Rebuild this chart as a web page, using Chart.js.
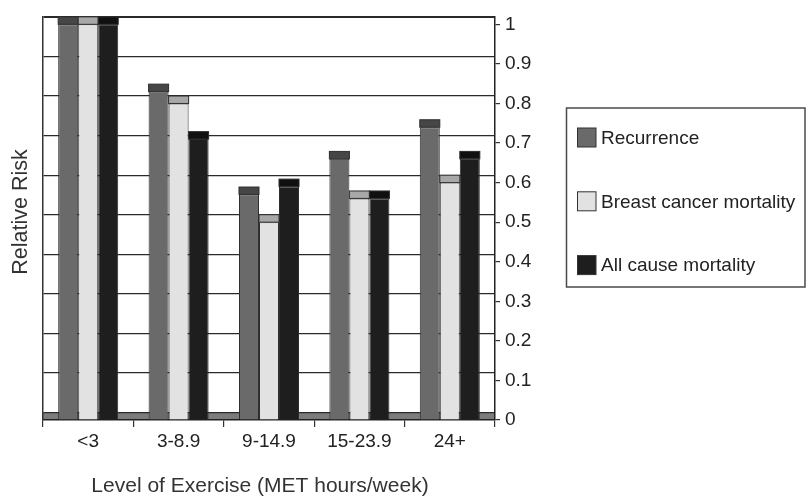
<!DOCTYPE html>
<html>
<head>
<meta charset="utf-8">
<script src="https://cdn.jsdelivr.net/npm/chart.js@4/dist/chart.umd.min.js"></script>
<style>
  html, body { margin: 0; padding: 0; background: #fff; }
  #wrap { width: 806px; height: 498px; }
</style>
</head>
<body>
<div id="wrap"><canvas id="c" width="806" height="498"></canvas></div>
<script>
// Exercise level categories (MET hours/week)
const categories = ['<3', '3-8.9', '9-14.9', '15-23.9', '24+'];

// Relative risk per outcome
const recurrence = [1.0, 0.83, 0.57, 0.66, 0.74];
const breastCancerMortality = [1.0, 0.80, 0.50, 0.56, 0.60];
const allCauseMortality = [1.0, 0.71, 0.59, 0.56, 0.66];

// Relative risk axis ticks
const riskTicks = [0, 0.1, 0.2, 0.3, 0.4, 0.5, 0.6, 0.7, 0.8, 0.9, 1];

const FONT = '"Liberation Sans", Arial, Helvetica, sans-serif';
const INK = '#222';

// White page, then the grey floor strip of the 3-D plot box
const floorPlugin = {
  id: 'floor',
  beforeDraw(chart) {
    const { ctx, chartArea } = chart;
    ctx.save();
    ctx.fillStyle = '#fff';
    ctx.fillRect(0, 0, chart.width, chart.height);
    const back = chart.scales.yg.getPixelForValue(0);
    const front = chart.scales.y.getPixelForValue(0);
    ctx.fillStyle = '#7c7c7c';
    ctx.fillRect(chartArea.left, back, chartArea.right - chartArea.left, front - back);
    ctx.restore();
  }
};

// Top faces of the columns, drawn from each bar's own geometry
const columnTopPlugin = {
  id: 'columnTop',
  afterDatasetsDraw(chart) {
    const { ctx } = chart;
    const depth = chart.scales.y.getPixelForValue(0) - chart.scales.yg.getPixelForValue(0);
    ctx.save();
    chart.data.datasets.forEach((ds, i) => {
      const meta = chart.getDatasetMeta(i);
      meta.data.forEach(bar => {
        const { x, y, width } = bar.getProps(['x', 'y', 'width'], true);
        ctx.fillStyle = ds.topColor;
        ctx.fillRect(x - width / 2, y - depth, width, depth);
        ctx.strokeStyle = '#2e2e2e';
        ctx.lineWidth = 1;
        ctx.strokeRect(x - width / 2, y - depth, width, depth);
      });
    });
    ctx.restore();
  }
};

// Boxed legend at the right of the plot
const boxLegendPlugin = {
  id: 'boxLegend',
  afterDraw(chart) {
    const { ctx } = chart;
    const box = { left: 566.5, top: 108, right: 805, bottom: 287 };
    ctx.save();
    ctx.strokeStyle = '#4a4a4a';
    ctx.lineWidth = 1.5;
    ctx.strokeRect(box.left, box.top, box.right - box.left, box.bottom - box.top);
    ctx.font = '19px ' + FONT;
    ctx.textBaseline = 'middle';
    ctx.textAlign = 'left';
    chart.data.datasets.forEach((ds, i) => {
      const cy = 137.5 + i * 63.8;
      ctx.fillStyle = ds.backgroundColor;
      ctx.fillRect(577, cy - 9.5, 19, 19);
      ctx.strokeStyle = '#333';
      ctx.lineWidth = 1;
      ctx.strokeRect(577.5, cy - 9.5, 18.5, 19);
      ctx.fillStyle = INK;
      ctx.fillText(ds.label, 601, cy + 1);
    });
    ctx.restore();
  }
};

// Axis titles
const axisTitlePlugin = {
  id: 'axisTitles',
  afterDraw(chart) {
    const { ctx } = chart;
    ctx.save();
    ctx.font = '21px ' + FONT;
    ctx.fillStyle = '#333';
    ctx.textAlign = 'center';
    ctx.textBaseline = 'alphabetic';
    ctx.fillText('Level of Exercise (MET hours/week)', 260, 492);
    ctx.translate(27, 212);
    ctx.rotate(-Math.PI / 2);
    ctx.font = '21.5px ' + FONT;
    ctx.fillText('Relative Risk', 0, 0);
    ctx.restore();
  }
};

const setTicks = scale => { scale.ticks = riskTicks.map(v => ({ value: v })); };

new Chart(document.getElementById('c'), {
  type: 'bar',
  data: {
    labels: categories,
    datasets: [
      { label: 'Recurrence', data: recurrence, backgroundColor: '#6a6a6a', topColor: '#464646', yAxisID: 'y' },
      { label: 'Breast cancer mortality', data: breastCancerMortality, backgroundColor: '#e2e2e2', topColor: '#a8a8a8', yAxisID: 'y' },
      { label: 'All cause mortality', data: allCauseMortality, backgroundColor: '#1e1e1e', topColor: '#101010', yAxisID: 'y' }
    ]
  },
  options: {
    responsive: false,
    animation: false,
    devicePixelRatio: 1,
    layout: { padding: { top: 13, right: 266, left: 0, bottom: 0 } },
    datasets: {
      bar: {
        borderColor: '#2e2e2e',
        borderWidth: 1,
        categoryPercentage: 0.664,
        barPercentage: 1.0
      }
    },
    plugins: {
      legend: { display: false },
      tooltip: { enabled: false }
    },
    scales: {
      x: {
        afterFit: s => { s.height = 78; },
        grid: { offset: true, drawOnChartArea: false, drawTicks: true, tickLength: 7, color: '#333', lineWidth: 1.2 },
        border: { display: true, color: INK, width: 1.5 },
        ticks: { color: INK, padding: 3, font: { family: FONT, size: 19 } }
      },
      // back-wall grid, set back from the front of the columns
      yg: {
        position: 'left',
        min: -0.0188,
        max: 1.00125,
        afterFit: s => { s.width = 43; },
        afterBuildTicks: setTicks,
        grid: {
          drawTicks: false,
          color: '#2a2a2a',
          lineWidth: ctx => (ctx.tick && ctx.tick.value === 1 ? 2 : 1.3)
        },
        border: { display: true, color: '#333', width: 1.5 },
        ticks: { display: false }
      },
      y: {
        position: 'right',
        min: 0,
        max: 1.02,
        afterFit: s => { s.width = 45; },
        afterBuildTicks: setTicks,
        grid: { drawOnChartArea: false, drawTicks: true, tickLength: 5, color: '#333', lineWidth: 1.2 },
        border: { display: true, color: INK, width: 1.5 },
        ticks: {
          color: INK,
          padding: 5,
          font: { family: FONT, size: 19 },
          callback: v => String(v)
        }
      }
    }
  },
  plugins: [floorPlugin, columnTopPlugin, boxLegendPlugin, axisTitlePlugin]
});
</script>
</body>
</html>
